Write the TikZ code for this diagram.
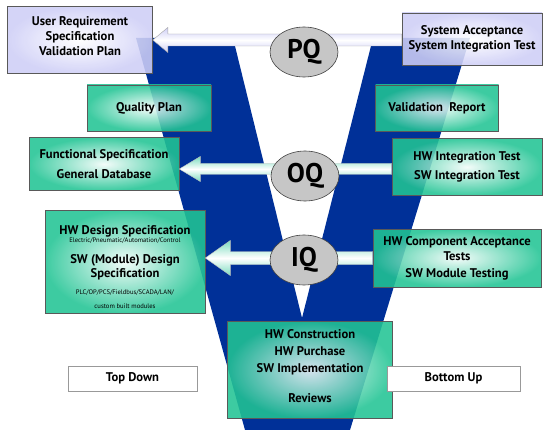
\documentclass[tikz,border=0pt]{standalone}
\usepackage{fontspec}
\setmainfont{PT Sans}
\usetikzlibrary{shapes.geometric,calc}
\definecolor{vblue}{RGB}{0,48,152}
\definecolor{mint}{RGB}{34,196,148}
\definecolor{lav}{RGB}{206,206,246}
\newcommand{\finetext}[1]{{\mdseries\fontsize{6.6}{8}\selectfont #1}}

\begin{document}
\begin{tikzpicture}[x=1pt,y=-1pt,
  greenbox/.style={draw=gray!70!black, line width=0.6pt, inner color=mint!6!white, outer color=mint,
    fill opacity=0.88, text opacity=1, font=\bfseries\fontsize{12.6}{15}\selectfont, align=center, inner sep=0pt},
  lavbox/.style={greenbox, inner color=white, outer color=lav},
  plainbox/.style={draw=gray!80, line width=0.6pt, fill=white, font=\bfseries\fontsize{12.6}{15}\selectfont, minimum height=25},
  qual/.style={ellipse, draw=gray!50!black, line width=0.6pt, fill=gray!45, inner sep=0pt,
    font=\bfseries\fontsize{27}{27}\selectfont, minimum width=68, minimum height=50},
  greenarrow/.style={draw=gray!50, top color=mint!60, bottom color=mint!60, middle color=white},
  lavarrow/.style={draw=gray!70, top color=lav, bottom color=lav, middle color=white}]
\useasboundingbox (0,0) rectangle (545,430);
% the V
\fill[vblue] (136,38) -- (233,38) -- (302,318) -- (373,38) -- (470,38) -- (350,430) -- (245,430) -- cycle;

\node[lavbox, minimum width=145, minimum height=67] (urs) at (80,40) {User Requirement\\Specification\\Validation Plan\rule[-8pt]{0pt}{8pt}};
\node[lavbox, minimum width=140, minimum height=52] (sat) at (472,39) {System Acceptance\\System Integration Test};
\node[greenbox, minimum width=124, minimum height=46] (qp) at (149,108) {Quality Plan};
\node[greenbox, minimum width=123, minimum height=46] (vr) at (437,108) {Validation\ \ Report};
\node[greenbox, minimum width=150, minimum height=53, font=\bfseries\fontsize{12.6}{20}\selectfont] (fs) at (104,164) {Functional Specification\\General Database};
\node[greenbox, minimum width=150, minimum height=57, font=\bfseries\fontsize{12.6}{19}\selectfont] (hwit) at (467,167) {HW Integration Test\\SW Integration Test};
\node[greenbox, minimum width=160, minimum height=103] (hwds) at (125,262)
  {\rule{0pt}{20pt}HW Design Specification\\[-7pt]\finetext{Electric/Pneumatic/Automation/Control}\\[6pt]
   SW (Module) Design\\[-1pt]Specification\\[2pt]\finetext{PLC/OP/PCS/Fieldbus/SCADA/LAN/}\\[-1pt]\finetext{custom built modules}};
\node[greenbox, minimum width=168, minimum height=58] (hwcat) at (457,258) {HW Component Acceptance\\Tests\\[2pt]SW Module Testing};
\node[greenbox, minimum width=165, minimum height=97, font=\bfseries\fontsize{12.6}{17}\selectfont] (hwc) at (310,370)
  {HW Construction\\HW Purchase\\SW Implementation\\[13pt]Reviews\rule[-8pt]{0pt}{8pt}};
\node[plainbox, minimum width=129] (td) at (132.5,378.5) {Top Down};
\node[plainbox, minimum width=133] (bu) at (453.5,378.5) {Bottom Up};

\coordinate (oqtip) at ($(fs.east)+(0,5)$);
\coordinate (iqtip) at ($(hwds.east)+(0,-4)$);
\path[lavarrow] (urs.east) -- ++(15,-12.5) -- ++(0,6.5) -- (sat.west |- 0,34) -- (sat.west |- 0,46)
  -- ($(urs.east)+(15,6)$) -- ++(0,6.5) -- cycle;
\path[greenarrow] (oqtip) -- ++(21,-12.5) -- ++(0,7) -- (hwit.west |- 0,163.5) -- (hwit.west |- 0,174.5)
  -- ($(oqtip)+(21,5.5)$) -- ++(0,7) -- cycle;
\path[greenarrow] (iqtip) -- ++(25,-17.5) -- ++(0,11) -- (hwcat.west |- 0,251.5) -- (hwcat.west |- 0,264.5)
  -- ($(iqtip)+(25,6.5)$) -- ++(0,11) -- cycle;

\node[qual] (pq) at (304,52) {PQ};
\node[qual] (oq) at (305,176) {OQ};
\node[qual] (iq) at (304,260) {IQ};
\end{tikzpicture}
\end{document}
